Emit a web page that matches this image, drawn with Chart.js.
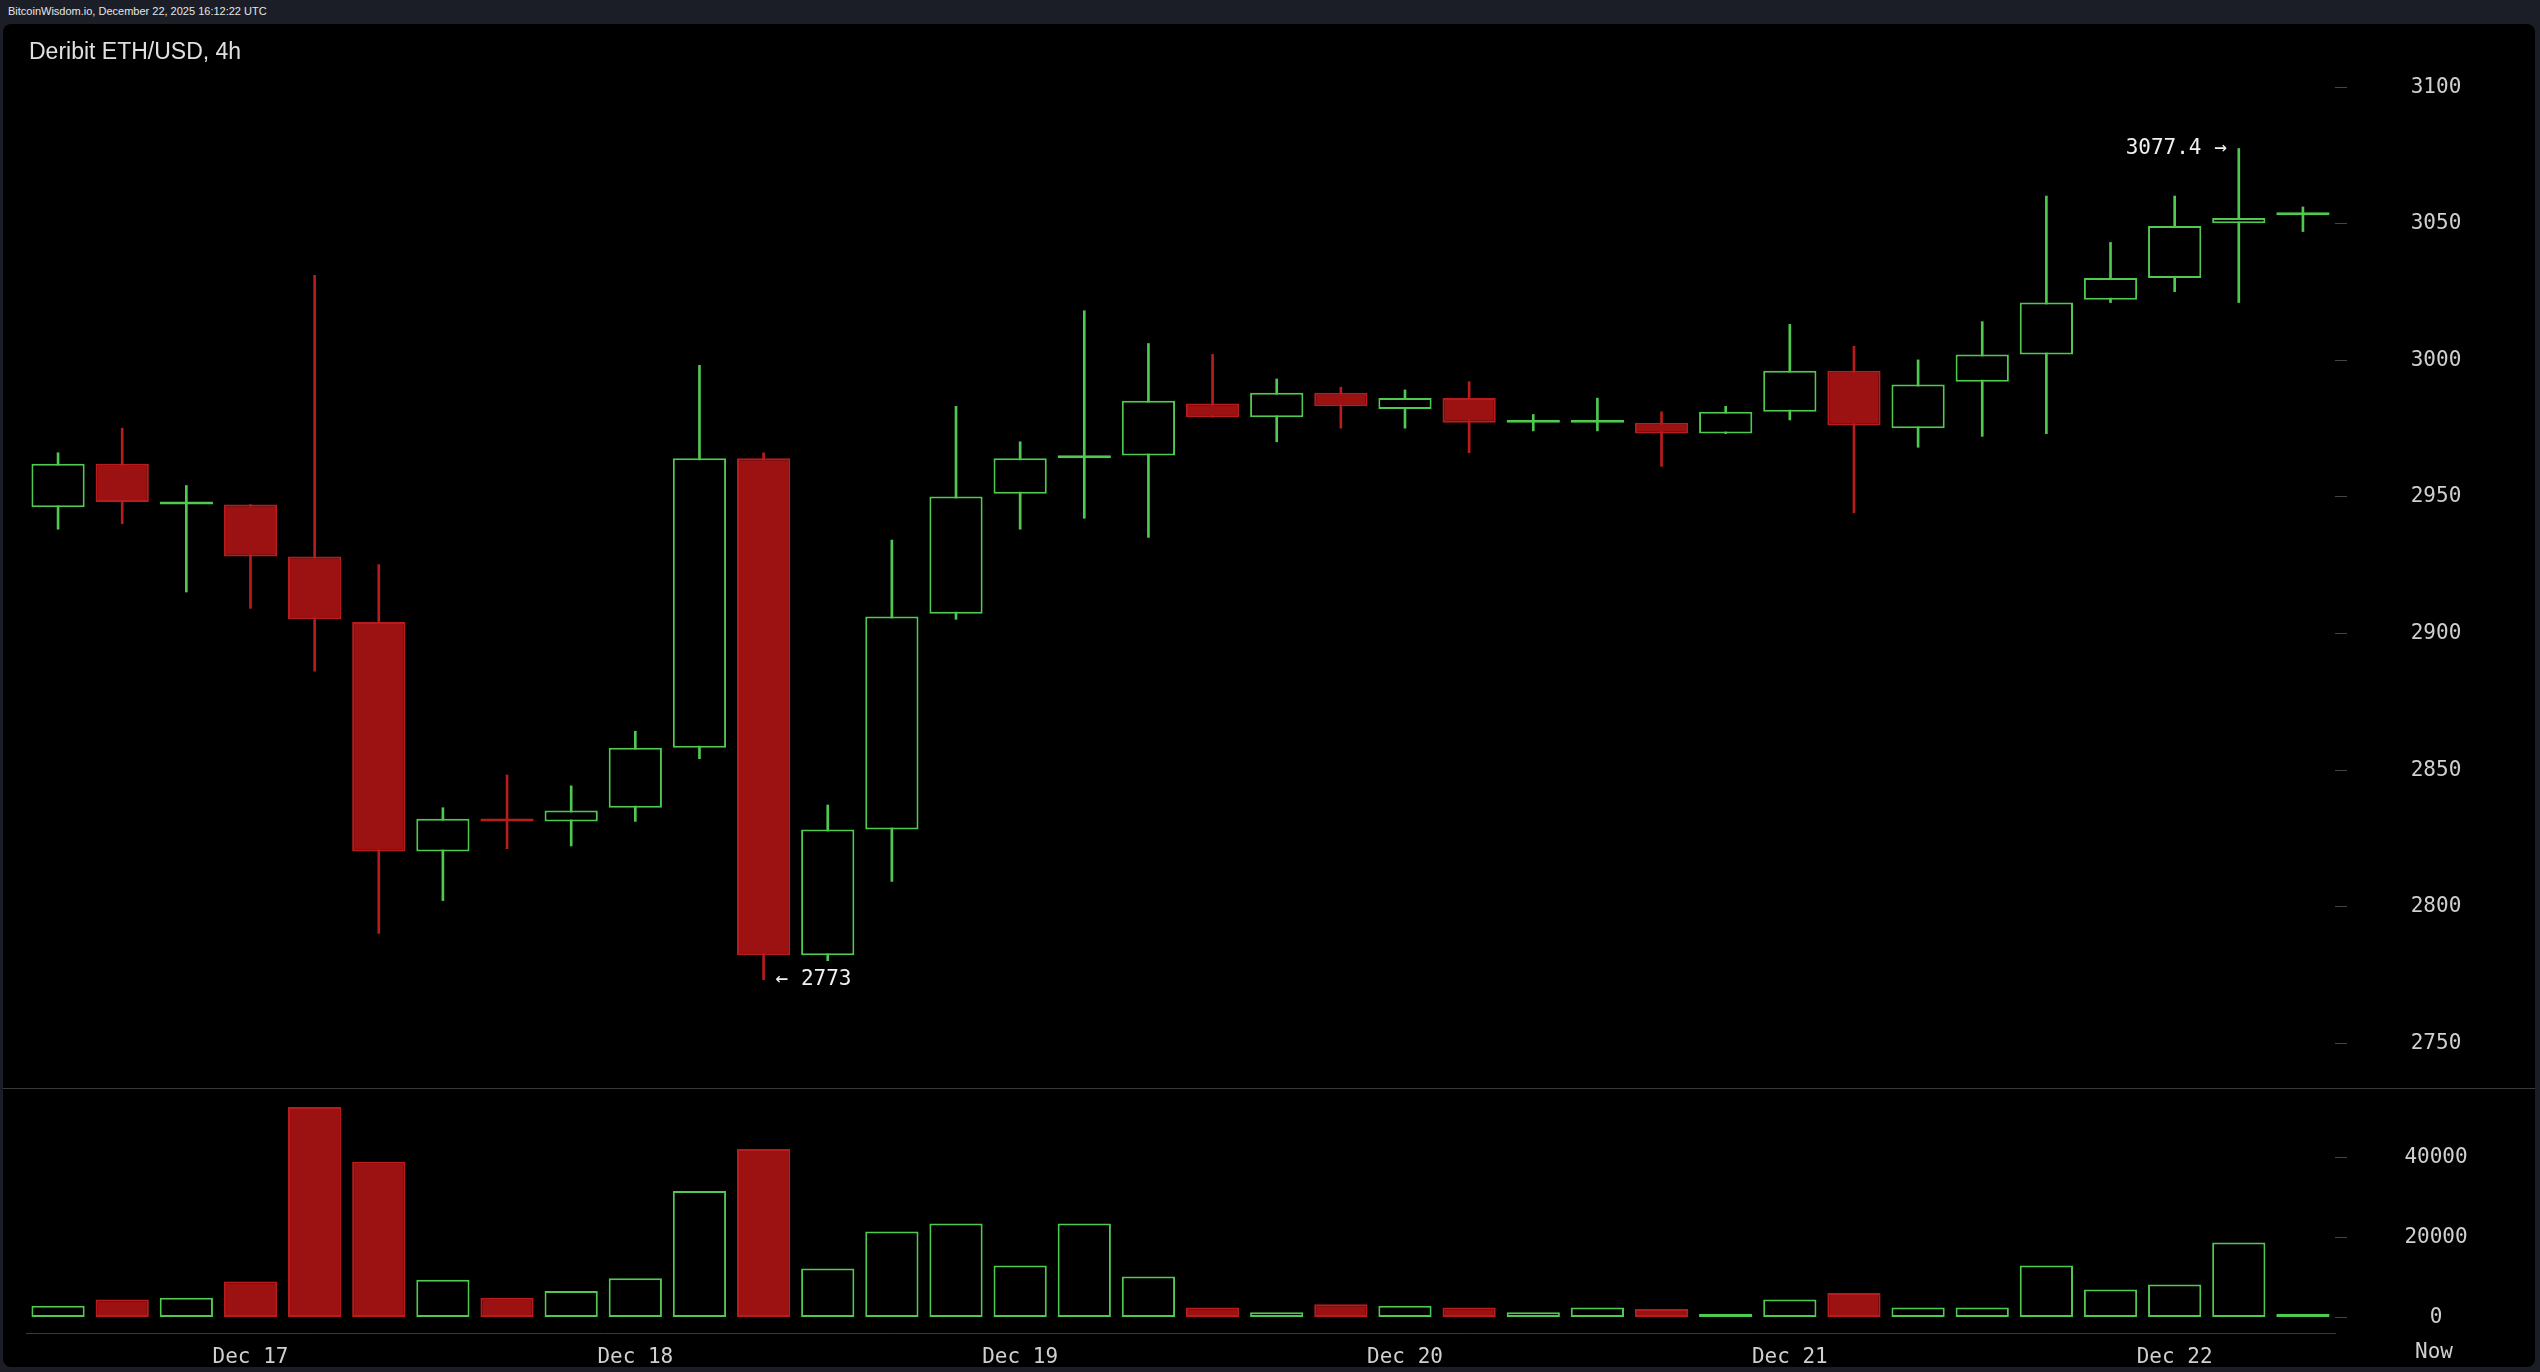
<!DOCTYPE html>
<html>
<head>
<meta charset="utf-8">
<script src="https://cdn.jsdelivr.net/npm/chart.js@4.4.1/dist/chart.umd.min.js"></script>
<style>
  body { margin: 0; width: 2540px; height: 1372px; background: #1b1e26; overflow: hidden; font-family: "Liberation Sans", Arial, sans-serif; }
  #header { position: absolute; left: 8px; top: 5px; color: #e6e6e6; font-size: 11px; }
  #panel { position: absolute; left: 3px; top: 24px; width: 2532px; height: 1343px; background: #000; border-radius: 8px; overflow: hidden; }
  #title { position: absolute; left: 29px; top: 38px; color: #e0e0e0; font-size: 23px; z-index: 2; }
  #priceWrap { position: absolute; left: 0; top: 24px; width: 2540px; height: 1065px; }
  #volWrap { position: absolute; left: 0; top: 1089px; width: 2540px; height: 283px; }
  #sep { position: absolute; left: 3px; top: 1088px; width: 2532px; height: 1px; background: #3a3a3a; }
  #now { position: absolute; left: 2415px; top: 1339px; color: #cfcfcf; font-size: 21px; font-family: "DejaVu Sans Mono", monospace; }
</style>
</head>
<body>
<div id="header">BitcoinWisdom.io, December 22, 2025 16:12:22 UTC</div>
<div id="panel"></div>
<div id="title">Deribit ETH/USD, 4h</div>
<div id="priceWrap"><canvas id="price"></canvas></div>
<div id="volWrap"><canvas id="vol"></canvas></div>
<div id="sep"></div>
<div id="now">Now</div>
<script>
// 4h candles, Dec 16 late -> Dec 22
const opens  = [2946,2962,2947,2947,2928,2904,2820,2832,2831,2836,2858,2964,2782,2828,2907,2951,2964,2965,2984,2979,2988,2982,2986,2977,2977,2977,2973,2981,2996,2975,2992,3002,3022,3030,3050,3053];
const closes = [2962,2948,2947,2928,2905,2820,2832,2831,2835,2858,2964,2782,2828,2906,2950,2964,2965,2985,2979,2988,2983,2986,2977,2978,2978,2973,2981,2996,2976,2991,3002,3021,3030,3049,3052,3054];
const highs  = [2966,2975,2954,2947,3031,2925,2836,2848,2844,2864,2998,2966,2837,2934,2983,2970,3018,3006,3002,2993,2990,2989,2992,2980,2986,2981,2983,3013,3005,3000,3014,3060,3043,3060,3077.4,3056];
const lows   = [2938,2940,2915,2909,2886,2790,2802,2821,2822,2831,2854,2773,2780,2809,2905,2938,2942,2935,2979,2970,2975,2975,2966,2974,2974,2961,2973,2978,2944,2968,2972,2973,3021,3025,3021,3047];
const volumes = [2800,4400,4800,8900,52500,38800,9300,4800,6500,9700,31500,42000,12100,21400,23400,12900,23400,10100,2400,1200,3200,2800,2400,1200,2400,2000,800,4400,6000,2400,2400,12900,6900,8100,18600,800];
const dayLabels = {3: 'Dec 17', 9: 'Dec 18', 15: 'Dec 19', 21: 'Dec 20', 27: 'Dec 21', 33: 'Dec 22'};
const priceTicks = [2750, 2800, 2850, 2900, 2950, 3000, 3050, 3100];
const volTicks = [0, 20000, 40000];

const GREEN = '#4fc94f', RED_FILL = '#9c1212', RED_LINE = '#b81c1c';
const labels = opens.map((_, i) => i);
const up = opens.map((o, i) => closes[i] >= o);
const lineCol = up.map(u => u ? GREEN : RED_LINE);
const fillCol = up.map(u => u ? '#000' : RED_FILL);
const monoFont = { family: 'DejaVu Sans Mono', size: 21 };

// right-hand price/volume labels, drawn from the y scale
function rightAxis(list) {
  return {
    id: 'rightAxis',
    afterDraw(chart) {
      const { ctx, chartArea, scales: { y } } = chart;
      ctx.save();
      ctx.font = '21px "DejaVu Sans Mono"';
      ctx.textAlign = 'center';
      ctx.textBaseline = 'middle';
      list.forEach(v => {
        const py = Math.round(y.getPixelForValue(v)) + 0.5;
        ctx.strokeStyle = '#444';
        ctx.lineWidth = 1;
        ctx.beginPath();
        ctx.moveTo(chartArea.right, py);
        ctx.lineTo(chartArea.right + 12, py);
        ctx.stroke();
        ctx.fillStyle = '#cfcfcf';
        ctx.fillText(String(v), 2436, py);
      });
      ctx.restore();
    }
  };
}

const priceChart = new Chart(document.getElementById('price'), {
  type: 'bar',
  data: {
    labels: labels,
    datasets: [
      { data: opens.map((o, i) => [o, closes[i]]), backgroundColor: fillCol, borderColor: lineCol,
        borderWidth: 2, borderSkipped: false, grouped: false, barPercentage: 0.83, categoryPercentage: 1, minBarLength: 3, order: 1 },
      { data: lows.map((l, i) => [l, highs[i]]), backgroundColor: lineCol, borderWidth: 0,
        grouped: false, barThickness: 2, order: 2 }
    ]
  },
  options: {
    responsive: true, maintainAspectRatio: false, animation: false,
    layout: { padding: { left: 26, top: 0, bottom: 0, right: 205 } },
    plugins: { legend: { display: false }, tooltip: { enabled: false } },
    scales: {
      x: { display: false, offset: true },
      y: { display: false, min: 2733, max: 3123 }
    }
  },
  plugins: [rightAxis(priceTicks), {
    id: 'marks',
    afterDatasetsDraw(chart) {
      const { ctx, scales: { x, y } } = chart;
      const hi = highs.indexOf(Math.max(...highs)), lo = lows.indexOf(Math.min(...lows));
      ctx.save();
      ctx.fillStyle = '#f0f0f0';
      ctx.font = '21px "DejaVu Sans Mono"';
      ctx.textBaseline = 'middle';
      ctx.textAlign = 'right';
      ctx.fillText(highs[hi] + ' \u2192', x.getPixelForValue(hi) - 12, y.getPixelForValue(highs[hi]));
      ctx.textAlign = 'left';
      ctx.fillText('\u2190 ' + lows[lo], x.getPixelForValue(lo) + 12, y.getPixelForValue(lows[lo]));
      ctx.restore();
    }
  }]
});

const volChart = new Chart(document.getElementById('vol'), {
  type: 'bar',
  data: {
    labels: labels,
    datasets: [{ data: volumes, backgroundColor: fillCol, borderColor: lineCol, borderWidth: 2,
      borderSkipped: false, barPercentage: 0.83, categoryPercentage: 1 }]
  },
  options: {
    responsive: true, maintainAspectRatio: false, animation: false,
    layout: { padding: { left: 26, top: 0, bottom: 0, right: 205 } },
    plugins: { legend: { display: false }, tooltip: { enabled: false } },
    scales: {
      x: {
        offset: true, afterFit: a => { a.height = 39; },
        grid: { display: false },
        border: { display: true, color: '#3a3a3a' },
        ticks: { color: '#cfcfcf', font: monoFont, autoSkip: false, maxRotation: 0, padding: 4,
          callback: (v) => dayLabels[v] || '' }
      },
      y: { display: false, min: -4000, max: 57000 }
    }
  },
  plugins: [rightAxis(volTicks)]
});
</script>
</body>
</html>
